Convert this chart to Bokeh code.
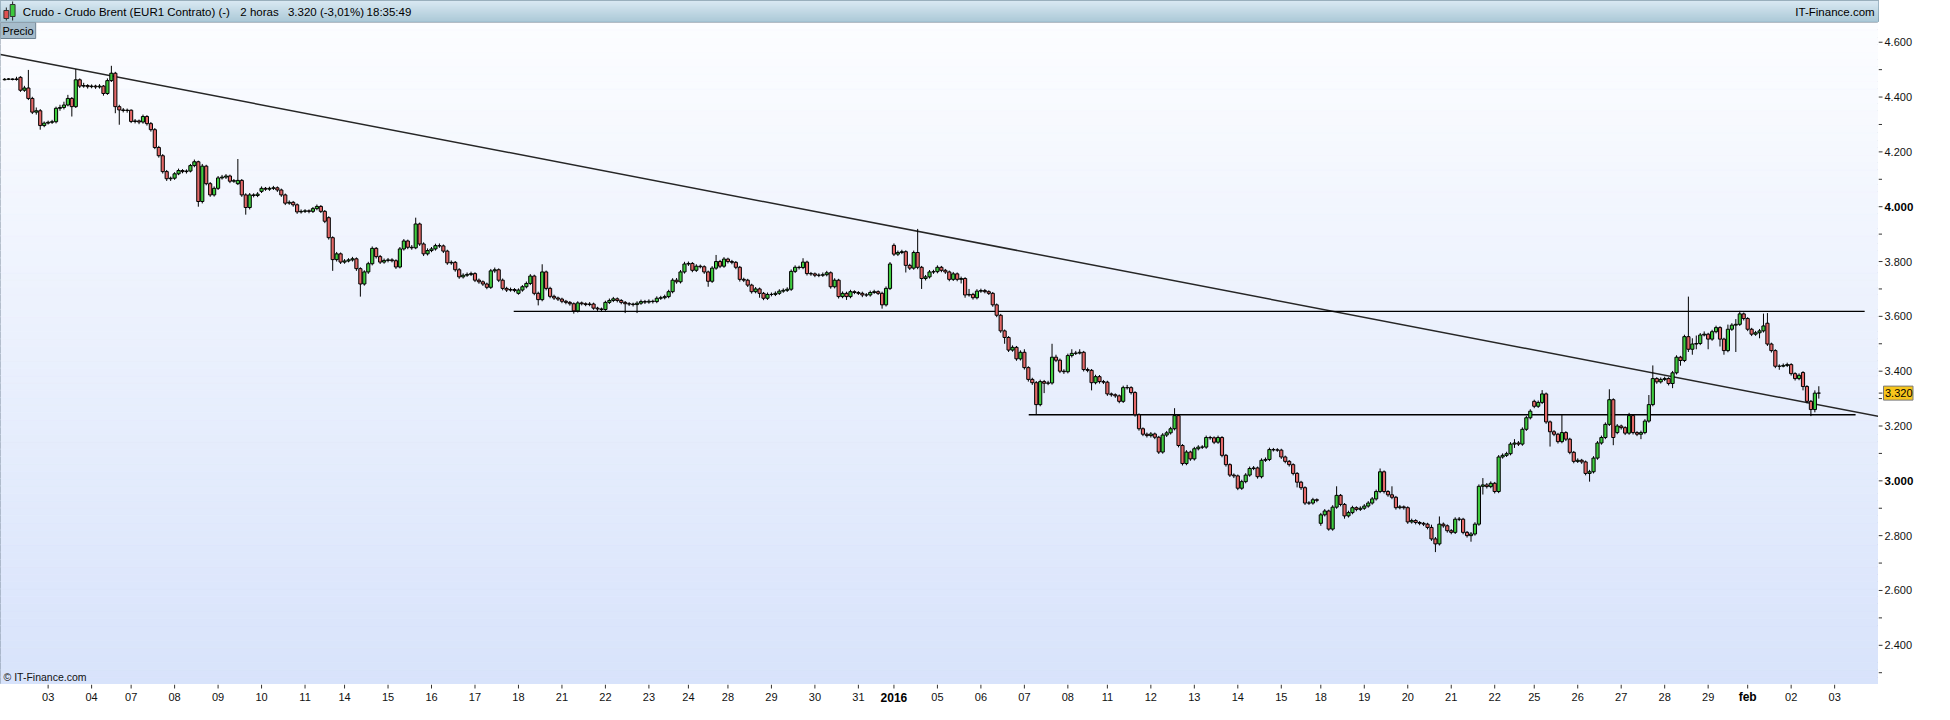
import numpy as np
from bokeh.plotting import figure
from bokeh.models import Range1d, Label
from bokeh.layouts import column, row
from bokeh.embed import file_html
from bokeh.resources import INLINE
from bokeh.core.properties import value

# ---------------- data ----------------
day_labels = ["", "03", "04", "07", "08", "09", "10", "11", "14", "15", "16", "17", "18",
              "21", "22", "23", "24", "28", "29", "30", "31", "2016", "05", "06", "07", "08",
              "11", "12", "13", "14", "15", "18", "19", "20", "21", "22", "25", "26", "27",
              "28", "29", "feb", "02", "03"]
bars_per_session = [11, 11, 10, 11, 11, 11, 11, 10, 11, 11, 11, 11, 11, 11, 11, 10, 10,
                    11, 11, 11, 9, 11, 11, 11, 11, 10, 11, 11, 11, 11, 10, 11, 11, 11, 11, 10,
                    11, 11, 11, 11, 10, 11, 11, 11]
bold_day_labels = ["2016", "feb"]

bar_open = [
    4.463, 4.465, 4.466, 4.464, 4.472, 4.425, 4.433, 4.395, 4.345, 4.350, 4.296,
    4.305, 4.308, 4.310, 4.359, 4.362, 4.371, 4.395, 4.365, 4.463, 4.440, 4.442,
    4.438, 4.440, 4.437, 4.440, 4.413, 4.460, 4.487, 4.365, 4.353, 4.351,
    4.352, 4.311, 4.313, 4.309, 4.329, 4.303, 4.281, 4.216, 4.186, 4.128, 4.102,
    4.104, 4.120, 4.132, 4.128, 4.130, 4.150, 4.164, 4.019, 4.148, 4.084, 4.043,
    4.067, 4.105, 4.108, 4.112, 4.093, 4.084, 4.096, 4.043, 3.997, 4.043, 4.041,
    4.056, 4.067, 4.064, 4.067, 4.069, 4.061, 4.043, 4.013, 4.016, 4.007, 3.981,
    3.983, 3.985, 3.983, 3.993, 4.001, 3.983, 3.960, 3.887, 3.807, 3.828,
    3.798, 3.802, 3.806, 3.810, 3.774, 3.718, 3.762, 3.792, 3.848, 3.818, 3.798,
    3.804, 3.806, 3.803, 3.780, 3.846, 3.875, 3.852, 3.850, 3.937, 3.864, 3.828,
    3.840, 3.846, 3.858, 3.857, 3.838, 3.795, 3.797, 3.770, 3.744, 3.750, 3.753,
    3.756, 3.732, 3.726, 3.718, 3.706, 3.766, 3.770, 3.732, 3.702, 3.696, 3.698,
    3.684, 3.696, 3.708, 3.720, 3.747, 3.684, 3.661, 3.762, 3.702, 3.673, 3.667,
    3.663, 3.655, 3.651, 3.646, 3.620, 3.649, 3.646, 3.643, 3.645, 3.630, 3.627,
    3.625, 3.651, 3.658, 3.664, 3.658, 3.651, 3.646, 3.645, 3.643, 3.648, 3.654,
    3.652, 3.655, 3.654, 3.666, 3.668, 3.672, 3.690, 3.732, 3.726, 3.762,
    3.791, 3.793, 3.768, 3.783, 3.781, 3.762, 3.728, 3.776, 3.800, 3.783,
    3.809, 3.800, 3.797, 3.779, 3.735, 3.732, 3.714, 3.690, 3.700, 3.684, 3.666,
    3.680, 3.680, 3.684, 3.692, 3.695, 3.699, 3.764, 3.779, 3.778, 3.798, 3.756,
    3.755, 3.750, 3.750, 3.752, 3.759, 3.708, 3.732, 3.672, 3.684, 3.672, 3.690,
    3.687, 3.684, 3.678, 3.678, 3.687, 3.690, 3.684, 3.642, 3.702,
    3.859, 3.827, 3.833, 3.836, 3.786, 3.776, 3.833, 3.779, 3.738, 3.744, 3.762,
    3.763, 3.779, 3.768, 3.762, 3.735, 3.755, 3.735, 3.738, 3.678, 3.680, 3.668,
    3.692, 3.694, 3.690, 3.684, 3.642, 3.604, 3.547, 3.523, 3.477, 3.487, 3.445,
    3.469, 3.413, 3.370, 3.358, 3.278, 3.362, 3.356, 3.357, 3.451, 3.440, 3.400,
    3.398, 3.457, 3.465, 3.466, 3.469, 3.406, 3.403, 3.358, 3.380, 3.362,
    3.360, 3.317, 3.314, 3.310, 3.290, 3.340, 3.340, 3.322, 3.241, 3.190, 3.170,
    3.165, 3.171, 3.159, 3.105, 3.167, 3.175, 3.190, 3.238, 3.129, 3.063, 3.105,
    3.080, 3.117, 3.123, 3.123, 3.158, 3.157, 3.141, 3.158, 3.093, 3.059, 3.021,
    3.018, 2.973, 2.997, 3.021, 3.045, 3.047, 3.015, 3.075, 3.078, 3.114, 3.113,
    3.112, 3.087, 3.071, 3.059, 3.027, 2.995, 2.975, 2.919, 2.919, 2.931,
    2.845, 2.876, 2.890, 2.824, 2.904, 2.947, 2.914, 2.872, 2.884, 2.902, 2.896,
    2.900, 2.908, 2.919, 2.934, 2.961, 3.033, 2.961, 2.949, 2.940, 2.902, 2.905,
    2.902, 2.850, 2.855, 2.848, 2.845, 2.842, 2.830, 2.788, 2.770, 2.842, 2.836,
    2.818, 2.812, 2.860, 2.860, 2.812, 2.800, 2.806, 2.842, 2.980, 2.985, 2.979,
    2.991, 2.961, 3.087, 3.093, 3.099, 3.134, 3.138, 3.134, 3.188, 3.230,
    3.290, 3.272, 3.286, 3.317, 3.215, 3.179, 3.170, 3.143, 3.176, 3.152, 3.104,
    3.071, 3.075, 3.069, 3.027, 3.033, 3.083, 3.138, 3.158, 3.206, 3.296, 3.176,
    3.200, 3.194, 3.174, 3.238, 3.176, 3.170, 3.176, 3.218, 3.278, 3.373, 3.361,
    3.370, 3.373, 3.355, 3.394, 3.451, 3.439, 3.526, 3.480, 3.499, 3.501, 3.532,
    3.535, 3.517, 3.544, 3.559, 3.517, 3.475, 3.553, 3.568, 3.571, 3.609,
    3.592, 3.553, 3.535, 3.540, 3.547, 3.575, 3.499, 3.475, 3.418, 3.418, 3.421,
    3.424, 3.391, 3.373, 3.395, 3.344, 3.290, 3.260, 3.320,
]
bar_high = [
    4.469, 4.469, 4.468, 4.474, 4.476, 4.441, 4.499, 4.401, 4.362, 4.356, 4.311,
    4.314, 4.317, 4.365, 4.372, 4.383, 4.408, 4.400, 4.502, 4.468, 4.452, 4.447,
    4.446, 4.445, 4.447, 4.444, 4.468, 4.514, 4.492, 4.372, 4.360, 4.358,
    4.355, 4.320, 4.318, 4.336, 4.334, 4.309, 4.287, 4.222, 4.192, 4.134, 4.110,
    4.126, 4.139, 4.137, 4.136, 4.156, 4.172, 4.168, 4.156, 4.153, 4.090, 4.074,
    4.112, 4.116, 4.119, 4.117, 4.101, 4.174, 4.101, 4.049, 4.050, 4.049, 4.053,
    4.074, 4.072, 4.073, 4.076, 4.074, 4.066, 4.048, 4.023, 4.021, 4.012, 3.990,
    3.991, 3.990, 3.999, 4.008, 4.006, 3.988, 3.965, 3.892, 3.835, 3.833,
    3.809, 3.812, 3.817, 3.815, 3.779, 3.768, 3.799, 3.855, 3.853, 3.824, 3.811,
    3.813, 3.812, 3.808, 3.853, 3.882, 3.880, 3.860, 3.960, 3.942, 3.870, 3.848,
    3.853, 3.865, 3.866, 3.862, 3.843, 3.804, 3.802, 3.776, 3.757, 3.760, 3.763,
    3.761, 3.738, 3.731, 3.723, 3.773, 3.778, 3.775, 3.738, 3.708, 3.705, 3.703,
    3.702, 3.714, 3.727, 3.754, 3.752, 3.690, 3.790, 3.767, 3.708, 3.679, 3.672,
    3.668, 3.660, 3.656, 3.651, 3.655, 3.654, 3.651, 3.652, 3.650, 3.635, 3.632,
    3.657, 3.665, 3.671, 3.669, 3.663, 3.656, 3.652, 3.650, 3.655, 3.661, 3.660,
    3.662, 3.661, 3.673, 3.675, 3.679, 3.697, 3.739, 3.740, 3.769, 3.799,
    3.800, 3.798, 3.790, 3.789, 3.786, 3.767, 3.783, 3.824, 3.806, 3.816,
    3.814, 3.806, 3.802, 3.784, 3.741, 3.737, 3.719, 3.707, 3.705, 3.689, 3.687,
    3.687, 3.691, 3.699, 3.702, 3.706, 3.771, 3.786, 3.785, 3.812, 3.803, 3.762,
    3.760, 3.757, 3.760, 3.766, 3.764, 3.739, 3.737, 3.691, 3.690, 3.697, 3.695,
    3.692, 3.690, 3.685, 3.694, 3.697, 3.695, 3.690, 3.709, 3.798,
    3.866, 3.840, 3.843, 3.841, 3.792, 3.840, 3.919, 3.784, 3.751, 3.769, 3.770,
    3.786, 3.784, 3.773, 3.767, 3.762, 3.760, 3.745, 3.743, 3.700, 3.686, 3.699,
    3.701, 3.700, 3.695, 3.689, 3.647, 3.609, 3.552, 3.528, 3.494, 3.492, 3.476,
    3.480, 3.418, 3.376, 3.364, 3.369, 3.368, 3.365, 3.500, 3.460, 3.446, 3.407,
    3.464, 3.480, 3.474, 3.480, 3.474, 3.413, 3.408, 3.387, 3.386, 3.368,
    3.365, 3.322, 3.319, 3.315, 3.347, 3.350, 3.345, 3.327, 3.246, 3.195, 3.176,
    3.178, 3.176, 3.164, 3.174, 3.182, 3.197, 3.265, 3.243, 3.134, 3.112, 3.110,
    3.124, 3.130, 3.130, 3.165, 3.164, 3.162, 3.165, 3.163, 3.098, 3.064, 3.027,
    3.023, 3.004, 3.028, 3.052, 3.054, 3.052, 3.082, 3.085, 3.121, 3.120, 3.119,
    3.117, 3.092, 3.076, 3.064, 3.032, 3.000, 2.980, 2.926, 2.938, 2.936,
    2.883, 2.897, 2.895, 2.911, 2.980, 2.952, 2.919, 2.891, 2.909, 2.907, 2.907,
    2.915, 2.926, 2.941, 2.968, 3.045, 3.038, 2.966, 2.980, 2.945, 2.912, 2.910,
    2.907, 2.862, 2.860, 2.853, 2.850, 2.847, 2.840, 2.795, 2.870, 2.848, 2.841,
    2.824, 2.867, 2.868, 2.865, 2.817, 2.813, 2.849, 2.987, 3.010, 2.992, 2.998,
    2.996, 3.094, 3.100, 3.106, 3.141, 3.152, 3.145, 3.195, 3.237, 3.261,
    3.296, 3.293, 3.331, 3.322, 3.220, 3.185, 3.175, 3.242, 3.181, 3.157, 3.109,
    3.082, 3.080, 3.074, 3.040, 3.090, 3.145, 3.165, 3.213, 3.334, 3.301, 3.207,
    3.205, 3.199, 3.248, 3.243, 3.181, 3.183, 3.225, 3.313, 3.421, 3.378, 3.377,
    3.380, 3.378, 3.401, 3.458, 3.456, 3.533, 3.672, 3.520, 3.530, 3.539, 3.545,
    3.540, 3.551, 3.566, 3.564, 3.522, 3.570, 3.575, 3.590, 3.620, 3.614,
    3.597, 3.558, 3.547, 3.554, 3.610, 3.612, 3.504, 3.480, 3.425, 3.428, 3.431,
    3.429, 3.396, 3.392, 3.400, 3.349, 3.295, 3.330, 3.345,
]
bar_low = [
    4.461, 4.462, 4.461, 4.460, 4.419, 4.419, 4.389, 4.338, 4.336, 4.281, 4.290,
    4.300, 4.302, 4.304, 4.350, 4.355, 4.366, 4.329, 4.360, 4.433, 4.434, 4.431,
    4.432, 4.430, 4.431, 4.405, 4.408, 4.455, 4.341, 4.299, 4.344, 4.343,
    4.305, 4.304, 4.301, 4.303, 4.296, 4.274, 4.210, 4.179, 4.121, 4.094, 4.094,
    4.098, 4.115, 4.122, 4.121, 4.125, 4.144, 4.000, 4.012, 4.078, 4.036, 4.037,
    4.061, 4.099, 4.101, 4.086, 4.087, 4.079, 4.036, 3.971, 3.990, 4.034, 4.035,
    4.050, 4.058, 4.058, 4.061, 4.054, 4.036, 4.006, 4.007, 4.000, 3.974, 3.975,
    3.977, 3.976, 3.977, 3.987, 3.977, 3.940, 3.880, 3.766, 3.800, 3.791,
    3.792, 3.797, 3.800, 3.766, 3.672, 3.712, 3.755, 3.786, 3.811, 3.791, 3.792,
    3.797, 3.797, 3.773, 3.775, 3.840, 3.845, 3.843, 3.845, 3.857, 3.820, 3.822,
    3.834, 3.840, 3.850, 3.831, 3.788, 3.788, 3.763, 3.737, 3.738, 3.744, 3.747,
    3.725, 3.719, 3.711, 3.699, 3.700, 3.759, 3.725, 3.695, 3.689, 3.690, 3.688,
    3.679, 3.690, 3.702, 3.714, 3.677, 3.640, 3.655, 3.695, 3.666, 3.660, 3.656,
    3.648, 3.644, 3.639, 3.610, 3.614, 3.640, 3.637, 3.637, 3.624, 3.620, 3.618,
    3.620, 3.645, 3.652, 3.651, 3.644, 3.612, 3.638, 3.636, 3.612, 3.642, 3.645,
    3.646, 3.647, 3.648, 3.660, 3.662, 3.666, 3.684, 3.719, 3.720, 3.756,
    3.784, 3.761, 3.762, 3.775, 3.755, 3.708, 3.722, 3.770, 3.776, 3.777,
    3.793, 3.790, 3.772, 3.727, 3.725, 3.707, 3.683, 3.684, 3.668, 3.659, 3.660,
    3.673, 3.674, 3.678, 3.686, 3.689, 3.693, 3.758, 3.771, 3.772, 3.749, 3.748,
    3.743, 3.743, 3.744, 3.746, 3.701, 3.702, 3.665, 3.666, 3.660, 3.666, 3.681,
    3.678, 3.670, 3.671, 3.672, 3.682, 3.678, 3.628, 3.636, 3.696,
    3.820, 3.820, 3.827, 3.760, 3.769, 3.770, 3.772, 3.700, 3.731, 3.738, 3.755,
    3.757, 3.761, 3.755, 3.728, 3.729, 3.728, 3.720, 3.668, 3.672, 3.661, 3.662,
    3.686, 3.684, 3.678, 3.635, 3.597, 3.540, 3.500, 3.470, 3.471, 3.438, 3.439,
    3.406, 3.362, 3.350, 3.241, 3.272, 3.320, 3.349, 3.351, 3.433, 3.393, 3.390,
    3.392, 3.450, 3.459, 3.461, 3.399, 3.396, 3.330, 3.352, 3.355, 3.353,
    3.310, 3.307, 3.303, 3.283, 3.284, 3.333, 3.315, 3.234, 3.183, 3.163, 3.158,
    3.158, 3.152, 3.098, 3.099, 3.160, 3.169, 3.184, 3.122, 3.056, 3.057, 3.073,
    3.074, 3.111, 3.116, 3.117, 3.150, 3.134, 3.135, 3.086, 3.052, 3.014, 3.010,
    2.966, 2.967, 2.991, 3.015, 3.039, 3.008, 3.009, 3.069, 3.072, 3.107, 3.106,
    3.080, 3.064, 3.052, 3.020, 2.976, 2.967, 2.912, 2.912, 2.913, 2.922,
    2.836, 2.870, 2.818, 2.818, 2.898, 2.907, 2.862, 2.866, 2.878, 2.889, 2.890,
    2.894, 2.902, 2.913, 2.928, 2.955, 2.954, 2.942, 2.933, 2.895, 2.896, 2.895,
    2.843, 2.844, 2.841, 2.838, 2.835, 2.823, 2.781, 2.740, 2.764, 2.829, 2.811,
    2.805, 2.806, 2.853, 2.805, 2.793, 2.778, 2.800, 2.836, 2.950, 2.972, 2.973,
    2.954, 2.955, 3.081, 3.087, 3.093, 3.120, 3.127, 3.128, 3.182, 3.224,
    3.265, 3.266, 3.280, 3.208, 3.125, 3.163, 3.136, 3.137, 3.145, 3.097, 3.064,
    3.065, 3.062, 3.020, 2.997, 3.027, 3.077, 3.132, 3.152, 3.200, 3.130, 3.170,
    3.187, 3.167, 3.168, 3.169, 3.163, 3.152, 3.170, 3.212, 3.272, 3.354, 3.355,
    3.364, 3.348, 3.338, 3.388, 3.420, 3.433, 3.470, 3.460, 3.480, 3.495, 3.527,
    3.480, 3.511, 3.538, 3.490, 3.460, 3.469, 3.547, 3.470, 3.565, 3.585,
    3.546, 3.528, 3.529, 3.520, 3.541, 3.492, 3.468, 3.411, 3.405, 3.414, 3.415,
    3.384, 3.366, 3.367, 3.330, 3.283, 3.236, 3.250, 3.300,
]
bar_close = [
    4.465, 4.466, 4.464, 4.466, 4.425, 4.433, 4.395, 4.345, 4.350, 4.296, 4.305,
    4.308, 4.310, 4.359, 4.362, 4.371, 4.395, 4.365, 4.463, 4.440, 4.442, 4.438,
    4.440, 4.437, 4.440, 4.413, 4.460, 4.487, 4.365, 4.353, 4.351, 4.352,
    4.311, 4.313, 4.309, 4.329, 4.303, 4.281, 4.216, 4.186, 4.128, 4.102, 4.104,
    4.120, 4.132, 4.128, 4.130, 4.150, 4.164, 4.019, 4.148, 4.084, 4.043, 4.067,
    4.105, 4.108, 4.112, 4.093, 4.095, 4.096, 4.043, 3.997, 4.043, 4.041, 4.046,
    4.067, 4.064, 4.067, 4.069, 4.061, 4.043, 4.013, 4.016, 4.007, 3.981, 3.983,
    3.985, 3.983, 3.993, 4.001, 3.983, 3.947, 3.887, 3.807, 3.828, 3.798,
    3.802, 3.806, 3.810, 3.774, 3.718, 3.762, 3.792, 3.848, 3.818, 3.798, 3.804,
    3.806, 3.803, 3.780, 3.846, 3.875, 3.852, 3.850, 3.937, 3.864, 3.828, 3.840,
    3.846, 3.858, 3.857, 3.838, 3.795, 3.797, 3.770, 3.744, 3.750, 3.753, 3.756,
    3.732, 3.726, 3.718, 3.706, 3.766, 3.770, 3.732, 3.702, 3.696, 3.698, 3.694,
    3.696, 3.708, 3.720, 3.747, 3.684, 3.661, 3.762, 3.702, 3.673, 3.667, 3.663,
    3.655, 3.651, 3.646, 3.620, 3.649, 3.646, 3.643, 3.645, 3.630, 3.627, 3.625,
    3.651, 3.658, 3.664, 3.658, 3.651, 3.646, 3.645, 3.643, 3.648, 3.654, 3.652,
    3.655, 3.654, 3.666, 3.668, 3.672, 3.690, 3.732, 3.726, 3.762, 3.791,
    3.793, 3.768, 3.783, 3.781, 3.762, 3.728, 3.776, 3.800, 3.783, 3.809,
    3.800, 3.797, 3.779, 3.735, 3.732, 3.714, 3.690, 3.700, 3.684, 3.666, 3.680,
    3.680, 3.684, 3.692, 3.695, 3.699, 3.764, 3.779, 3.778, 3.798, 3.756, 3.755,
    3.750, 3.750, 3.752, 3.759, 3.708, 3.732, 3.672, 3.684, 3.672, 3.690, 3.687,
    3.684, 3.678, 3.678, 3.687, 3.690, 3.684, 3.642, 3.702, 3.791,
    3.827, 3.833, 3.836, 3.786, 3.776, 3.833, 3.779, 3.738, 3.744, 3.762, 3.763,
    3.779, 3.768, 3.762, 3.735, 3.755, 3.735, 3.738, 3.678, 3.680, 3.668, 3.692,
    3.694, 3.690, 3.684, 3.642, 3.604, 3.547, 3.523, 3.477, 3.487, 3.445, 3.469,
    3.413, 3.370, 3.358, 3.278, 3.362, 3.356, 3.357, 3.451, 3.440, 3.400, 3.398,
    3.457, 3.465, 3.466, 3.469, 3.406, 3.403, 3.358, 3.380, 3.362, 3.360,
    3.317, 3.314, 3.310, 3.290, 3.340, 3.340, 3.322, 3.241, 3.190, 3.170, 3.165,
    3.171, 3.159, 3.105, 3.167, 3.175, 3.190, 3.238, 3.129, 3.063, 3.105, 3.080,
    3.117, 3.123, 3.123, 3.158, 3.157, 3.141, 3.158, 3.093, 3.059, 3.021, 3.018,
    2.973, 2.997, 3.021, 3.045, 3.047, 3.015, 3.075, 3.078, 3.114, 3.113, 3.112,
    3.087, 3.071, 3.059, 3.027, 2.995, 2.975, 2.919, 2.919, 2.931, 2.929,
    2.876, 2.890, 2.824, 2.904, 2.947, 2.914, 2.872, 2.884, 2.902, 2.896, 2.900,
    2.908, 2.919, 2.934, 2.961, 3.033, 2.961, 2.949, 2.940, 2.902, 2.905, 2.902,
    2.850, 2.855, 2.848, 2.845, 2.842, 2.830, 2.788, 2.770, 2.842, 2.836, 2.818,
    2.812, 2.860, 2.860, 2.812, 2.800, 2.806, 2.842, 2.980, 2.985, 2.979, 2.991,
    2.961, 3.087, 3.093, 3.099, 3.134, 3.138, 3.134, 3.188, 3.230, 3.254,
    3.272, 3.286, 3.317, 3.215, 3.179, 3.170, 3.143, 3.176, 3.152, 3.104, 3.071,
    3.075, 3.069, 3.027, 3.033, 3.083, 3.138, 3.158, 3.206, 3.296, 3.158, 3.200,
    3.194, 3.174, 3.238, 3.176, 3.170, 3.176, 3.218, 3.278, 3.373, 3.361, 3.370,
    3.373, 3.355, 3.394, 3.451, 3.439, 3.526, 3.480, 3.499, 3.501, 3.532, 3.535,
    3.517, 3.544, 3.559, 3.517, 3.475, 3.553, 3.568, 3.571, 3.609, 3.592,
    3.553, 3.535, 3.540, 3.547, 3.565, 3.499, 3.475, 3.418, 3.418, 3.421, 3.424,
    3.391, 3.373, 3.385, 3.344, 3.290, 3.260, 3.320, 3.320,
]

# drawn lines (bar index, price)
trend_bar = [-1.05, 474.1]
trend_price = [4.555, 3.235]
level_price = [3.618, 3.241]
level_from_bar = [128.8, 259.1]
level_to_bar = [470.6, 468.3]

last_price = 3.320
y_ticks = [2.4, 2.6, 2.8, 3.0, 3.2, 3.4, 3.6, 3.8, 4.0, 4.2, 4.4, 4.6]
y_minor = [2.3, 2.5, 2.7, 2.9, 3.1, 3.3, 3.5, 3.7, 3.9, 4.1, 4.3, 4.5]
y_bold = [3.0, 4.0]

header_texts = ["Crudo - Crudo Brent (EUR1 Contrato) (-)", "2 horas", "3.320 (-3,01%)", "18:35:49"]

# ---------------- layout ----------------
FONT = "Liberation Sans"
W = 1934
AXIS_R = 56
FRAME_W = W - AXIS_R
HEAD_H = 22
FRAME_H = 662
AXIS_B = 20
X0, X1 = -1.05, 474.1
Y0, Y1 = 2.257, 4.672
px_y = FRAME_H / (Y1 - Y0)
AXIS_COL = "#7a8a9a"
TICK_COL = "#333333"

o = np.array(bar_open)
hi = np.array(bar_high)
lo = np.array(bar_low)
c = np.array(bar_close)
x = np.arange(len(c), dtype=float)
session_start = np.concatenate([[0], np.cumsum(bars_per_session)[:-1]]).astype(int)

xr = Range1d(X0, X1)
yr = Range1d(Y0, Y1)


def hexmix(c0, c1, t):
    a = np.array(c0, dtype=float); b = np.array(c1, dtype=float)
    v = a + (b - a) * t
    return "#%02x%02x%02x" % tuple(int(round(k)) for k in v)


def bare(fig):
    fig.xgrid.visible = False
    fig.ygrid.visible = False
    fig.min_border = 0
    return fig


# ---------------- header ----------------
hd = bare(figure(width=W, height=HEAD_H, x_range=Range1d(0, W), y_range=Range1d(0, HEAD_H),
                 toolbar_location=None, output_backend="svg",
                 x_axis_location=None, y_axis_location=None, min_border=0))
hd.outline_line_color = "#6a8595"
hb = np.linspace(0, HEAD_H, HEAD_H + 1)
hcols = [hexmix((163, 195, 211), (214, 231, 241), (k + 0.5) / HEAD_H) for k in range(HEAD_H)]
hd.quad(left=0, right=W, bottom=hb[:-1], top=hb[1:], fill_color=hcols, line_color=hcols, line_width=0.5)
hd.segment(x0=[6, 12.5], y0=[2, 2], x1=[6, 12.5], y1=[15, 21], line_color="#222222", line_width=1)
hd.quad(left=[3.5], right=[8.5], bottom=[4], top=[12], fill_color="#e05050", line_color="#333333")
hd.quad(left=[10], right=[15], bottom=[6], top=[18], fill_color="#3cc83c", line_color="#333333")
hd.text(x=[23, 247, 296, 377], y=[11] * 4, text=header_texts,
        text_font=value(FONT), text_font_size="11.5px", text_baseline="middle",
        text_align="left", text_color="#000000")
hd.text(x=[W - 4], y=[11], text=["IT-Finance.com"], text_font=value(FONT),
        text_font_size="11.5px", text_baseline="middle", text_align="right", text_color="#000000")

# ---------------- main chart ----------------
p = bare(figure(width=FRAME_W, height=FRAME_H, x_range=xr, y_range=yr,
                x_axis_location=None, y_axis_location=None,
                toolbar_location=None, output_backend="svg", min_border=0))
p.outline_line_color = AXIS_COL
p.background_fill_color = "#eef2fd"

nb = 90
edges = np.linspace(Y0, Y1, nb + 1)
cols = [hexmix((216, 227, 251), (252, 253, 255), (k + 0.5) / nb) for k in range(nb)]
p.quad(left=X0 - 5, right=X1 + 5, bottom=edges[:-1], top=edges[1:],
       fill_color=cols, line_color=cols, line_width=0.5)

p.line(trend_bar, trend_price, line_color="#262626", line_width=1.5)
p.segment(x0=level_from_bar, y0=level_price, x1=level_to_bar, y1=level_price,
          line_color="#000000", line_width=1.3)

p.segment(x0=x, y0=lo, x1=x, y1=hi, line_color="#000000", line_width=1)
up = c >= o
p.vbar(x=x[up], width=0.8, bottom=o[up], top=c[up], fill_color="#3fcc3f",
       line_color="#000000", line_width=1)
p.vbar(x=x[~up], width=0.8, bottom=c[~up], top=o[~up], fill_color="#e46868",
       line_color="#000000", line_width=1)

p.add_layout(Label(x=X0, y=Y1, text="Precio", text_font=FONT, text_font_size="11px",
                   text_color="#000000", text_baseline="top", text_align="left",
                   background_fill_color="#a6bccb", border_line_color="#6d8393", padding=2))
p.add_layout(Label(x=X0, x_offset=3, y=Y0 + 2 / px_y, text="© IT-Finance.com", text_font=FONT,
                   text_font_size="10.5px", text_color="#111111", text_baseline="bottom",
                   text_align="left"))

# ---------------- right price axis ----------------
ys = bare(figure(width=AXIS_R, height=FRAME_H, x_range=Range1d(0, AXIS_R), y_range=yr,
                 x_axis_location=None, y_axis_location=None,
                 toolbar_location=None, output_backend="svg", min_border=0))
ys.outline_line_color = None
ys.background_fill_color = "white"
ys.border_fill_color = "white"
ys.segment(x0=[0] * len(y_ticks), y0=y_ticks, x1=[4] * len(y_ticks), y1=y_ticks,
           line_color=TICK_COL, line_width=1)
ys.segment(x0=[0] * len(y_minor), y0=y_minor, x1=[3.5] * len(y_minor), y1=y_minor,
           line_color=TICK_COL, line_width=1)
reg = [v for v in y_ticks if v not in y_bold]
ys.text(x=[6] * len(reg), y=reg, text=[f"{v:.3f}" for v in reg], text_font=value(FONT),
        text_font_size="11px", text_baseline="middle", text_align="left", text_color="#111111")
ys.text(x=[6] * len(y_bold), y=y_bold, text=[f"{v:.3f}" for v in y_bold], text_font=value(FONT),
        text_font_size="11.5px", text_font_style="bold", text_baseline="middle",
        text_align="left", text_color="#000000")
# last price marker
ys.segment(x0=[0], y0=[last_price], x1=[4], y1=[last_price], line_color=TICK_COL)
ys.quad(left=[5], right=[34.5], bottom=[last_price - 7 / px_y], top=[last_price + 7 / px_y],
        fill_color="#f7c51c", line_color="#7a7a7a", line_width=1)
ys.text(x=[6.5], y=[last_price], text=[f"{last_price:.3f}"], text_font=value(FONT),
        text_font_size="11px", text_baseline="middle", text_align="left", text_color="#000000")

# ---------------- bottom date axis ----------------
tick_pos = [int(s) for s in session_start[1:]]
tick_lab = day_labels[1:]
bx = bare(figure(width=W, height=AXIS_B, x_range=xr, y_range=Range1d(0, AXIS_B),
                 x_axis_location=None, y_axis_location=None,
                 toolbar_location=None, output_backend="svg", min_border=0,
                 min_border_right=AXIS_R))
bx.outline_line_color = None
bx.background_fill_color = "white"
bx.border_fill_color = "white"
bx.segment(x0=tick_pos, y0=[AXIS_B] * len(tick_pos), x1=tick_pos, y1=[AXIS_B - 4] * len(tick_pos),
           line_color=TICK_COL, line_width=1)
reg_pos = [pp for pp, lab in zip(tick_pos, tick_lab) if lab not in bold_day_labels]
reg_lab = [lab for lab in tick_lab if lab not in bold_day_labels]
bold_pos = [pp for pp, lab in zip(tick_pos, tick_lab) if lab in bold_day_labels]
bold_lab = [lab for lab in tick_lab if lab in bold_day_labels]
bx.text(x=reg_pos, y=[7.5] * len(reg_pos), text=reg_lab, text_font=value(FONT),
        text_font_size="11px", text_baseline="middle", text_align="center", text_color="#111111")
bx.text(x=bold_pos, y=[7.5] * len(bold_pos), text=bold_lab, text_font=value(FONT),
        text_font_size="12px", text_font_style="bold", text_baseline="middle",
        text_align="center", text_color="#000000")

layout = column(hd, row(p, ys), bx)
open("out.html", "w").write(file_html(layout, INLINE, title="Crudo Brent"))
